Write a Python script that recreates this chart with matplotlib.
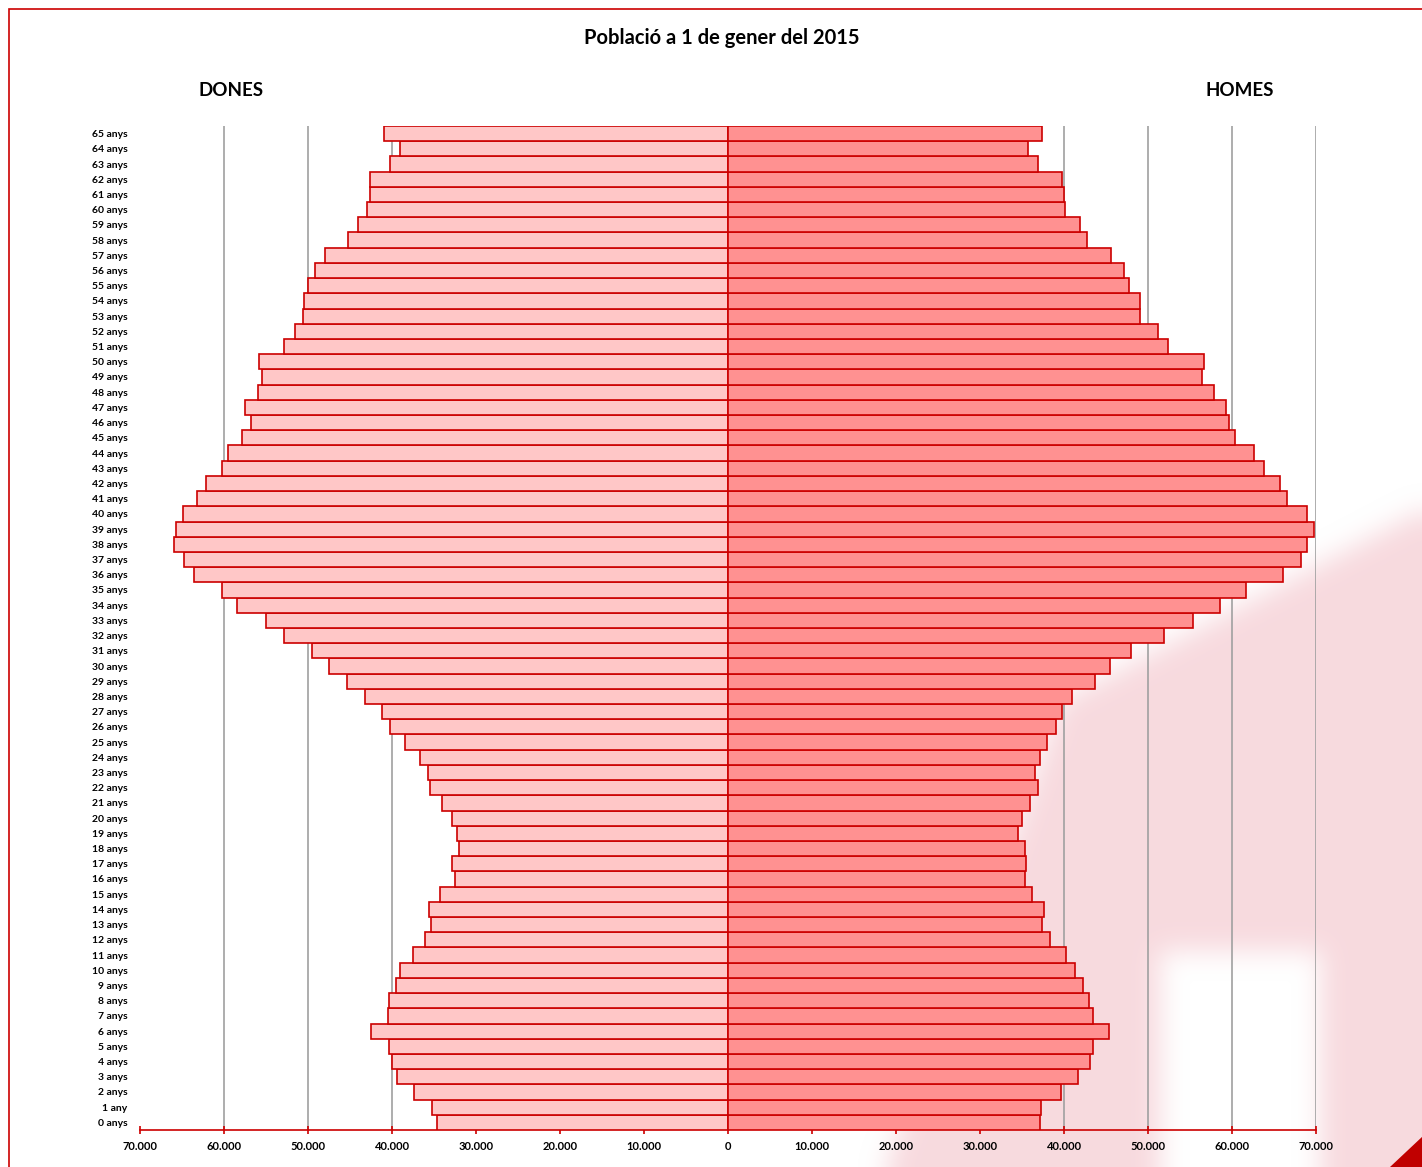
import numpy as np
import matplotlib.pyplot as plt
from matplotlib.patches import Rectangle, Polygon
from matplotlib.path import Path

plt.rcParams['font.family'] = ['Lato', 'DejaVu Sans']

# edats 0..65
edats = [str(i) + (' any' if i == 1 else ' anys') for i in range(66)]

# milers de persones, llegits del grafic
dones = [34.7, 35.2, 37.4, 39.4, 40.0, 40.3, 42.5, 40.5, 40.3, 39.5,
         39.0, 37.5, 36.1, 35.4, 35.6, 34.3, 32.5, 32.9, 32.0, 32.3,
         32.9, 34.1, 35.5, 35.7, 36.7, 38.4, 40.2, 41.2, 43.2, 45.3,
         47.5, 49.5, 52.9, 55.0, 58.5, 60.2, 63.6, 64.8, 66.0, 65.7,
         64.9, 63.2, 62.1, 60.2, 59.5, 57.8, 56.8, 57.5, 56.0, 55.5,
         55.8, 52.9, 51.5, 50.6, 50.5, 50.0, 49.2, 48.0, 45.2, 44.1,
         43.0, 42.6, 42.6, 40.2, 39.1, 41.0]
homes = [37.2, 37.3, 39.7, 41.7, 43.1, 43.4, 45.3, 43.4, 43.0, 42.3,
         41.3, 40.2, 38.3, 37.4, 37.6, 36.2, 35.4, 35.5, 35.3, 34.5,
         35.0, 35.9, 36.9, 36.6, 37.2, 38.0, 39.0, 39.8, 41.0, 43.7,
         45.5, 48.0, 51.9, 55.4, 58.6, 61.7, 66.1, 68.2, 68.9, 69.8,
         68.9, 66.5, 65.7, 63.8, 62.6, 60.3, 59.6, 59.3, 57.9, 56.4,
         56.7, 52.4, 51.2, 49.1, 49.0, 47.7, 47.2, 45.6, 42.7, 41.9,
         40.1, 40.0, 39.8, 36.9, 35.7, 37.4]

ticks = list(range(-70000, 70001, 10000))

W, H = 1422, 1167
fig = plt.figure(figsize=(W / 100, H / 100), dpi=100)
fig.patch.set_facecolor('white')


def suavitza(m, r, n=3):
    # filtre de caixa repetit
    for _ in range(n):
        for eix in (0, 1):
            c = np.cumsum(np.pad(m, [(r + 1, r) if e == eix else (0, 0) for e in (0, 1)],
                                 mode='edge'), axis=eix)
            if eix == 0:
                m = (c[2 * r + 1:] - c[:-2 * r - 1]) / (2 * r + 1)
            else:
                m = (c[:, 2 * r + 1:] - c[:, :-2 * r - 1]) / (2 * r + 1)
    return m


# marca d'aigua rosada difuminada (aproximada) al fons
yy, xx = np.mgrid[0:H, 0:W]
pts = np.column_stack([xx.ravel(), yy.ravel()])
taca = Path([(1060, 700), (1422, 510), (1440, 1180), (880, 1180), (990, 900)])
forat = Path([(1160, 950), (1320, 950), (1320, 1180), (1160, 1180)])
mask = taca.contains_points(pts) & ~forat.contains_points(pts)
mask = suavitza(mask.reshape(H, W).astype(float), 12)
img = np.zeros((H, W, 4))
img[..., 0] = 0.97
img[..., 1] = 0.84
img[..., 2] = 0.86
img[..., 3] = mask * 0.9
bg = fig.add_axes([0, 0, 1, 1], zorder=-1)
bg.imshow(img, aspect='auto', interpolation='bilinear')
bg.axis('off')

ax = fig.add_axes([140 / W, 1 - 1130 / H, (1316 - 140) / W, (1130 - 126) / H])
ax.set_facecolor('none')

y = np.arange(len(edats))
d = np.array(dones) * 1000
h = np.array(homes) * 1000

ax.barh(y, -d, height=1.0, color='#FFC7C7', edgecolor='#CC0000', linewidth=1.2, zorder=3)
ax.barh(y, h, height=1.0, color='#FF9191', edgecolor='#CC0000', linewidth=1.2, zorder=3)

ax.set_xlim(-70000, 70000)
ax.set_ylim(-0.5, len(edats) - 0.5)

ax.set_xticks(ticks)
ax.set_xticklabels(['{:,}'.format(abs(t)).replace(',', '.') for t in ticks],
                   fontsize=8, fontweight='bold')
ax.set_yticks(y)
ax.set_yticklabels(edats, fontsize=7.5, fontweight='bold')

ax.xaxis.grid(True, color='#A0A0A0', linewidth=1.2, zorder=0)
ax.get_xgridlines()[0].set_visible(False)
ax.set_axisbelow(True)

for s in ['top', 'right', 'left']:
    ax.spines[s].set_visible(False)
ax.spines['bottom'].set_color('#CC0000')
ax.spines['bottom'].set_linewidth(1.2)
ax.tick_params(axis='x', direction='inout', length=6, width=1.2, color='#CC0000', pad=5)
ax.tick_params(axis='y', length=0, pad=9)

fig.text(722 / W, 1 - 38 / H, 'Població a 1 de gener del 2015', ha='center', va='center',
         fontsize=14.5, fontweight='bold')
fig.text(231 / W, 1 - 90 / H, 'DONES', ha='center', va='center', fontsize=13.5, fontweight='bold')
fig.text(1240 / W, 1 - 90 / H, 'HOMES', ha='center', va='center', fontsize=13.5, fontweight='bold')

# marc vermell i triangle de la cantonada
fig.patches.append(Rectangle((9 / W, -0.05), 1.1, 1 - 9 / H + 0.05, transform=fig.transFigure,
                             fill=False, edgecolor='#CC0000', linewidth=1.2))
fig.patches.append(Polygon([(1390 / W, 0), (1 + 1 / W, 0), (1 + 1 / W, 1 - 1136 / H)],
                           closed=True, transform=fig.transFigure,
                           facecolor='#C00000', edgecolor='none'))

fig.savefig('out.png', dpi=100)
